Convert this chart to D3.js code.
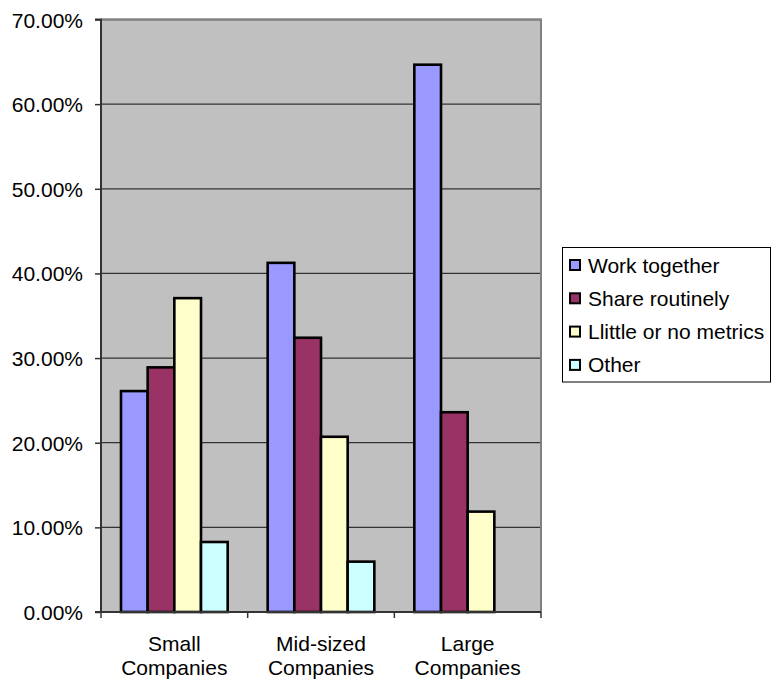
<!DOCTYPE html>
<html><head><meta charset="utf-8">
<script src="https://cdn.jsdelivr.net/npm/d3@7"></script>
<style>
html,body{margin:0;padding:0;background:#fff;}
text{font-family:"Liberation Sans",Arial,sans-serif;}
</style></head>
<body><svg id="chart" width="771" height="680"></svg>
<script>
const categories = [["Small","Companies"],["Mid-sized","Companies"],["Large","Companies"]];
const seriesNames = ["Work together","Share routinely","Llittle or no metrics","Other"];
const workTogether = [0.261, 0.4125, 0.6466];
const shareRoutinely = [0.289, 0.324, 0.236];
const littleOrNo = [0.3708, 0.207, 0.1186];
const other = [0.0827, 0.0595, null];
const yTicks = [0,0.1,0.2,0.3,0.4,0.5,0.6,0.7];
const colors = ["#9999FF","#993366","#FFFFCC","#CCFFFF"];

const series = [workTogether, shareRoutinely, littleOrNo, other];
const svg = d3.select("#chart");
const L=101, R=541, T=19.5, B=612;
const FS = "21px";

const x0 = d3.scaleBand().domain(d3.range(categories.length)).range([L,R]).paddingInner(0).paddingOuter(0);
const bw = x0.bandwidth()/5.5;
const x1 = d3.scaleBand().domain(d3.range(4)).range([0.75*bw, 4.75*bw]).padding(0);
const y = d3.scaleLinear().domain([0,0.7]).range([B,T]);

svg.append("rect").attr("x",L).attr("y",T).attr("width",R-L).attr("height",B-T).attr("fill","#C0C0C0");
svg.append("g").selectAll("line").data(yTicks.filter(d=>d>0)).join("line")
  .attr("x1",L).attr("x2",R).attr("y1",d=>y(d)).attr("y2",d=>y(d))
  .attr("stroke","#333").attr("stroke-width",1.3);
svg.append("path").attr("d",`M${L},${T}H${R}V${B}`).attr("fill","none").attr("stroke","#808080").attr("stroke-width",2);

const barData=[];
series.forEach((s,si)=>s.forEach((v,ci)=>{ if(v!=null) barData.push({si,ci,v}); }));
svg.append("g").selectAll("rect").data(barData).join("rect")
  .attr("x",d=>x0(d.ci)+x1(d.si)).attr("width",x1.bandwidth())
  .attr("y",d=>y(d.v)).attr("height",d=>B-y(d.v))
  .attr("fill",d=>colors[d.si]).attr("stroke","#000").attr("stroke-width",2.6);

const yAxis = d3.axisLeft(y).tickValues(yTicks).tickSize(6).tickFormat(d=>(d*100).toFixed(2)+"%");
const gy = svg.append("g").attr("transform",`translate(${L},0)`).call(yAxis);
gy.select(".domain").attr("stroke","#333").attr("stroke-width",2).attr("d",`M-6,${B}H0V${T}H-6`);
gy.selectAll(".tick line").attr("stroke","#333").attr("stroke-width",1.5);
gy.selectAll(".tick text").attr("font-size",FS).attr("fill","#000").attr("x",-18).attr("dy","0.36em")
  .attr("font-family","'Liberation Sans', Arial, sans-serif");

const xb = d3.scaleLinear().domain([0,3]).range([L,R]);
const gx = svg.append("g");
gx.append("line").attr("x1",L).attr("x2",R).attr("y1",B).attr("y2",B).attr("stroke","#333").attr("stroke-width",2);
gx.selectAll(".xt").data([0,1,2,3]).join("line").attr("class","xt")
  .attr("x1",d=>xb(d)).attr("x2",d=>xb(d)).attr("y1",B).attr("y2",B+6).attr("stroke","#333").attr("stroke-width",1.5);
const lab = gx.selectAll(".xl").data(categories).join("text").attr("class","xl")
  .attr("x",(d,i)=>x0(i)+x0.bandwidth()/2).attr("y",651).attr("text-anchor","middle")
  .attr("font-size",FS).attr("fill","#000");
lab.selectAll("tspan").data(d=>d).join("tspan")
  .attr("x",function(){return this.parentNode.getAttribute("x");})
  .attr("dy",(d,i)=>i===0?0:24).text(d=>d);

const lg = svg.append("g");
lg.append("rect").attr("x",562.5).attr("y",247.5).attr("width",208).attr("height",134.5)
  .attr("fill","#fff").attr("stroke","#000").attr("stroke-width",1);
seriesNames.forEach((n,i)=>{
  const cy = 265 + i*33.3;
  lg.append("rect").attr("x",570).attr("y",cy-5).attr("width",10).attr("height",10)
    .attr("fill",colors[i]).attr("stroke","#000").attr("stroke-width",2);
  lg.append("text").attr("x",588).attr("y",cy).attr("dy","0.36em").attr("font-size",FS).attr("fill","#000").text(n);
});
</script></body></html>
